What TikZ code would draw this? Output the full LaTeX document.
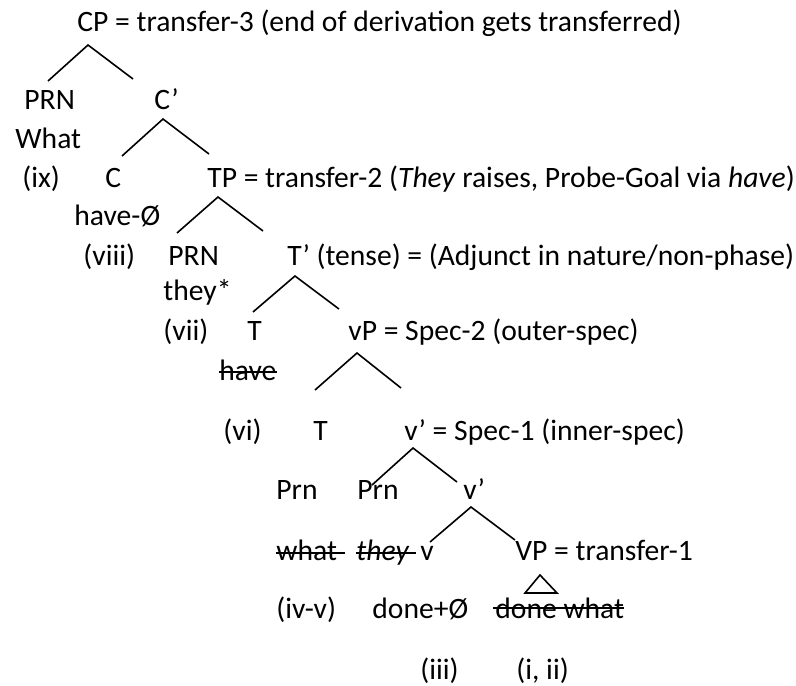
\documentclass[tikz,border=0pt]{standalone}
\usepackage{fontspec}
\setmainfont{Carlito}
\begin{document}
\begin{tikzpicture}[x=0.5pt,y=-0.5pt,
  lbl/.style={anchor=base west,inner sep=0pt,font=\fontsize{14.8}{17}\selectfont},
  branch/.style={line width=0.8pt},
  strike/.style={line width=0.8pt}]
\useasboundingbox (0,0) rectangle (796,685);
% text nodes
\node[lbl] (cp) at (77,32) {CP = transfer-3 (end of derivation gets transferred)};
\node[lbl] (prn1) at (24,109) {PRN};
\node[lbl] (cbar) at (154,109) {C’};
\node[lbl] (what1) at (15,148) {What};
\node[lbl] (ix) at (22,187) {(ix)};
\node[lbl] (c) at (105,187) {C};
\node[lbl] (tp) at (207,187) {TP = transfer-2 (\textit{They} raises, Probe-Goal via \textit{have})};
\node[lbl] (haveO) at (74,225) {have-Ø};
\node[lbl] (viii) at (83,265) {(viii)};
\node[lbl] (prn2) at (168,265) {PRN};
\node[lbl] (tbar) at (287,265) {T’ (tense) = (Adjunct in nature/non-phase)};
\node[lbl] (they1) at (163,300) {they*};
\node[lbl] (vii) at (163,340) {(vii)};
\node[lbl] (t1) at (247,340) {T};
\node[lbl] (vp) at (348,340) {vP = Spec-2 (outer-spec)};
\node[lbl] (have2) at (219,380) {have};
\node[lbl] (vi) at (223,440) {(vi)};
\node[lbl] (t2) at (313,440) {T};
\node[lbl] (vbar) at (404,440) {v’ = Spec-1 (inner-spec)};
\node[lbl] (prn3) at (276,499) {Prn};
\node[lbl] (prn4) at (357,499) {Prn};
\node[lbl] (vbar2) at (463,499) {v’};
\node[lbl] (what2) at (276,560) {what};
\node[lbl] (they2) at (356,560) {\textit{they}};
\node[lbl] (v) at (420,560) {v};
\node[lbl] (VP) at (515,560) {VP = transfer-1};
\node[lbl] (ivv) at (276,618) {(iv-v)};
\node[lbl] (done) at (372,618) {done+Ø};
\node[lbl] (donewhat) at (495,618) {done what};
\node[lbl] (iii) at (420,679) {(iii)};
\node[lbl] (iandii) at (516,679) {(i, ii)};
% branch points
\coordinate (cpA) at (88,45);   \coordinate (cpL) at (48,81);   \coordinate (cpR) at (133,79);
\coordinate (cbA) at (163,119); \coordinate (cbL) at (122,156); \coordinate (cbR) at (209,154);
\coordinate (tpA) at (218,197); \coordinate (tpL) at (177,233); \coordinate (tpR) at (263,231);
\coordinate (tbA) at (295,276); \coordinate (tbL) at (253,312); \coordinate (tbR) at (339,309);
\coordinate (vpA) at (357,353); \coordinate (vpL) at (315,390); \coordinate (vpR) at (401,388);
\coordinate (vbA) at (413,448); \coordinate (vbL) at (372,485); \coordinate (vbR) at (457,482);
\coordinate (vcA) at (471,507); \coordinate (vcL) at (430,542); \coordinate (vcR) at (515,540);
\coordinate (triA) at (540,575); \coordinate (triL) at (525,593); \coordinate (triR) at (557,593);
\draw[branch] (cpL) -- (cpA) -- (cpR);
\draw[branch] (cbL) -- (cbA) -- (cbR);
\draw[branch] (tpL) -- (tpA) -- (tpR);
\draw[branch] (tbL) -- (tbA) -- (tbR);
\draw[branch] (vpL) -- (vpA) -- (vpR);
\draw[branch] (vbL) -- (vbA) -- (vbR);
\draw[branch] (vcL) -- (vcA) -- (vcR);
\draw[branch] (triA) -- (triL) -- (triR) -- cycle;
% strike-throughs
\draw[strike] ([yshift=4pt]have2.base west) -- ([yshift=4pt]have2.base east);
\draw[strike] ([yshift=3.5pt]what2.base west) -- ([yshift=3.5pt,xshift=4pt]what2.base east);
\draw[strike] ([yshift=3.5pt]they2.base west) -- ([yshift=3.5pt,xshift=3pt]they2.base east);
\draw[strike] ([yshift=5pt,xshift=-1pt]donewhat.base west) -- ([yshift=5pt]donewhat.base east);
\end{tikzpicture}
\end{document}
